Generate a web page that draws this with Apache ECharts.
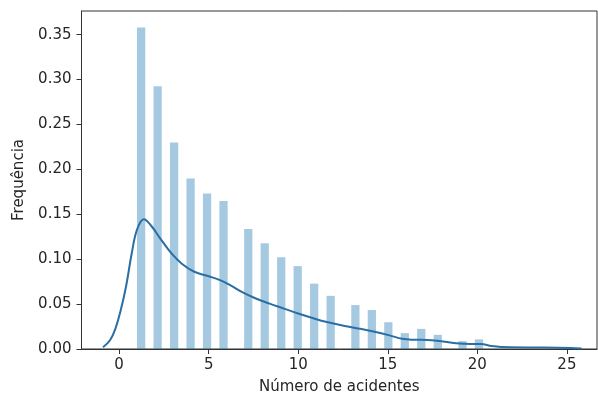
<!DOCTYPE html>
<html>
<head>
<meta charset="utf-8">
<script src="https://cdn.jsdelivr.net/npm/echarts@6/dist/echarts.min.js"></script>
<style>html,body{margin:0;padding:0;background:#fff}#chart{width:598px;height:400px}</style>
</head>
<body>
<div id="chart"></div>
<script>
// Histogram: number of accidents and density of each occupied bin
const accidents = [1,2,3,4,5,6,7,8,9,10,11,12,13,14,15,16,17,18,19,20];
const density = [0.358,0.2925,0.230,0.190,0.1733,0.1648,0.1336,0.1177,0.1023,0.0923,0.0728,0.0592,0.0489,0.0434,0.0298,0.0177,0.0224,0.0158,0.0088,0.0107];
const binStart = 1;
const binWidth = 0.46;

// KDE curve
const kdeX = [-0.9,-0.5,-0.2,0.1,0.4,0.7,1.0,1.38,1.8,2.3,2.9,3.5,4.2,5.0,5.6,6.2,6.9,7.6,8.4,9.2,10.0,10.8,11.6,12.4,13.2,14.2,15.1,15.8,16.5,17.2,17.9,18.8,19.6,20.2,20.8,21.8,23.7,25.2,25.82];
const kdeY = [0.002,0.010,0.023,0.044,0.071,0.106,0.133,0.1445,0.137,0.123,0.107,0.095,0.086,0.081,0.077,0.071,0.063,0.0565,0.0505,0.045,0.0395,0.0345,0.030,0.0265,0.0235,0.0195,0.0152,0.0113,0.0103,0.0101,0.0088,0.0064,0.0055,0.0055,0.0033,0.0019,0.0017,0.0011,0.0005];

const xTicks = [0,5,10,15,20,25];
const yTicks = [0,0.05,0.10,0.15,0.20,0.25,0.30,0.35];

const histData = accidents.map((k, i) => {
  const idx = Math.floor((k - binStart) / binWidth + 1e-9);
  const left = binStart + idx * binWidth;
  return [left, left + binWidth, density[i]];
});
const kdeData = kdeX.map((x, i) => [x, kdeY[i]]);

const font = 'DejaVu Sans';
const textColor = '#262626';
const chart = echarts.init(document.getElementById('chart'), null, {renderer: 'canvas'});
chart.setOption({
  animation: false,
  backgroundColor: '#fff',
  grid: {left: 81.5, right: 1, top: 11, bottom: 48, show: true, borderColor: '#333', borderWidth: 1, containLabel: false},
  xAxis: {
    type: 'value', min: -2.1, max: 26.68,
    name: 'Número de acidentes', nameLocation: 'middle', nameGap: 31,
    nameTextStyle: {fontFamily: font, fontSize: 15, color: textColor},
    axisLine: {show: true, onZero: false, lineStyle: {color: '#333', width: 1}},
    axisTick: {show: true, inside: false, length: 5, lineStyle: {color: '#333'}, customValues: xTicks},
    axisLabel: {fontFamily: font, fontSize: 15, color: textColor, margin: 9, customValues: xTicks},
    splitLine: {show: false}
  },
  yAxis: {
    type: 'value', min: 0, max: 0.3764,
    name: 'Frequência', nameLocation: 'middle', nameGap: 55,
    nameTextStyle: {fontFamily: font, fontSize: 15, color: textColor},
    axisLine: {show: true, onZero: false, lineStyle: {color: '#333', width: 1}},
    axisTick: {show: true, inside: false, length: 5, lineStyle: {color: '#333'}, customValues: yTicks},
    axisLabel: {fontFamily: font, fontSize: 15, color: textColor, margin: 10, customValues: yTicks,
      formatter: v => v.toFixed(2)},
    splitLine: {show: false}
  },
  series: [
    {
      type: 'custom',
      data: histData,
      encode: {x: [0, 1], y: 2},
      renderItem: (params, api) => {
        const p0 = api.coord([api.value(0), api.value(2)]);
        const p1 = api.coord([api.value(1), 0]);
        return {type: 'rect', shape: {x: p0[0], y: p0[1], width: p1[0] - p0[0], height: p1[1] - p0[1]},
          style: {fill: 'rgba(31,119,180,0.4)'}};
      },
      z: 1
    },
    {
      type: 'line',
      data: kdeData,
      smooth: 0.4,
      showSymbol: false,
      lineStyle: {color: '#2a6ea3', width: 2},
      z: 2
    }
  ]
});
</script>
</body>
</html>
